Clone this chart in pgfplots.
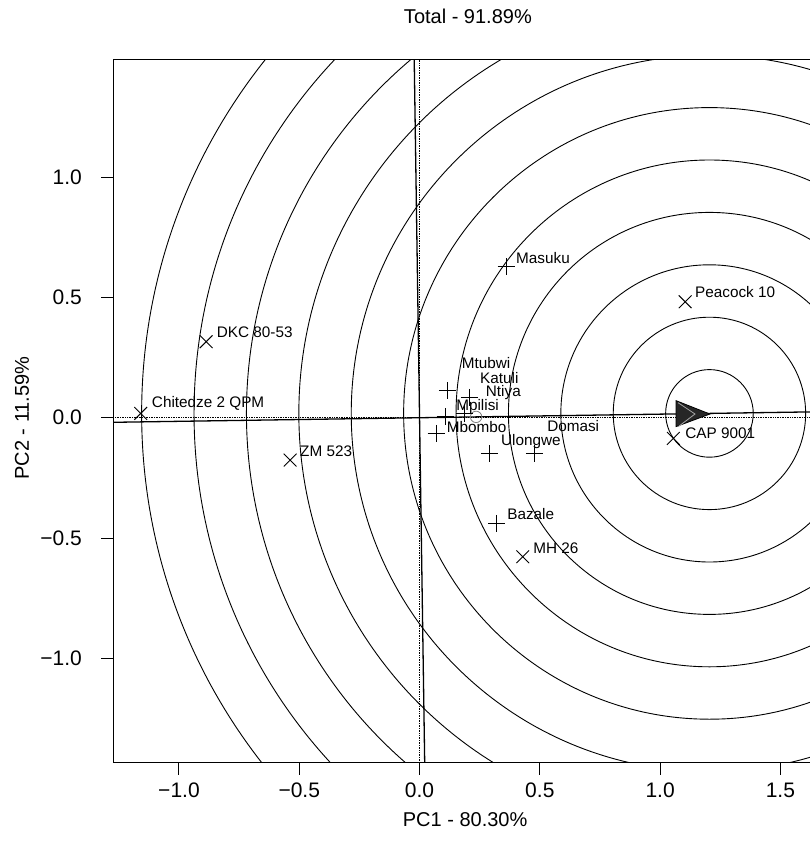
\documentclass[border=0pt]{standalone}
\usepackage{fontspec}
\setmainfont{Liberation Sans}
\usepackage{pgfplots}
\pgfplotsset{compat=1.18}
\tikzset{labelnode/.style={font=\fontsize{15.3bp}{18bp}\selectfont, anchor=west, inner sep=0pt}}
\pgfplotstableread{
x y
0.360 0.628
0.116 0.112
0.207 0.085
0.186 0.018
0.106 0.004
0.069 -0.065
0.290 -0.150
0.477 -0.148
0.321 -0.439
}\envtab
\pgfplotstableread{
x y
-0.887 0.316
-1.159 0.018
-0.538 -0.176
1.104 0.482
1.055 -0.086
0.429 -0.578
}\gentab
\begin{document}
\begin{tikzpicture}
\useasboundingbox (-113.3bp,-80.3bp) rectangle (696.7bp,762.7bp);
\begin{axis}[
  scale only axis, width=696.7bp, height=703.4bp,
  xmin=-1.273, xmax=1.623, ymin=-1.434, ymax=1.490,
  axis x line*=box, axis y line*=left,
  axis line style={-, line width=1.3bp},
  xtick pos=bottom, ytick pos=left,
  tick align=outside, major tick length=12bp,
  tick style={line width=1bp, black},
  xtick={-1,-0.5,0,0.5,1,1.5},
  xticklabels={−1.0,−0.5,0.0,0.5,1.0,1.5},
  ytick={-1,-0.5,0,0.5,1},
  yticklabels={−1.0,−0.5,0.0,0.5,1.0},
  every tick label/.append style={font=\fontsize{21bp}{25bp}\selectfont},
  xticklabel style={yshift=-5bp},
  yticklabel style={xshift=-16bp},
  title={Total - 91.89\%},
  title style={at={(0.509,1.053)}, anchor=center, font=\fontsize{20bp}{24bp}\selectfont},
  xlabel={PC1 - 80.30\%},
  xlabel style={at={(0.505,-0.0815)}, anchor=center, font=\fontsize{20bp}{24bp}\selectfont},
  ylabel={PC2 - 11.59\%},
  ylabel style={at={(-0.131,0.49)}, anchor=center, font=\fontsize{20bp}{24bp}\selectfont},
]
% concentric circles around the ideal point
\draw[line width=0.9bp] (axis cs:1.205,0.018) circle [radius=43.8bp];
\draw[line width=0.9bp] (axis cs:1.205,0.018) circle [radius=96.2bp];
\draw[line width=0.9bp] (axis cs:1.205,0.018) circle [radius=148.6bp];
\draw[line width=0.9bp] (axis cs:1.205,0.018) circle [radius=201.0bp];
\draw[line width=0.9bp] (axis cs:1.205,0.018) circle [radius=253.4bp];
\draw[line width=0.9bp] (axis cs:1.205,0.018) circle [radius=305.8bp];
\draw[line width=0.9bp] (axis cs:1.205,0.018) circle [radius=358.2bp];
\draw[line width=0.9bp] (axis cs:1.205,0.018) circle [radius=410.6bp];
\draw[line width=0.9bp] (axis cs:1.205,0.018) circle [radius=463.0bp];
\draw[line width=0.9bp] (axis cs:1.205,0.018) circle [radius=515.4bp];
\draw[line width=0.9bp] (axis cs:1.205,0.018) circle [radius=567.8bp];
% dotted reference axes
\addplot[black, line width=0.7bp, densely dotted] coordinates {(0,-1.434) (0,1.490)};
\addplot[black, line width=0.7bp, densely dotted] coordinates {(-1.273,0) (1.623,0)};
% AEC lines
\addplot[black, line width=1.3bp] coordinates {(-1.273,-0.019) (1.623,0.0242)};
\addplot[black, line width=1.3bp] coordinates {(-0.0222,1.490) (0.0214,-1.434)};
% arrow
\addplot[draw=black, fill=black!85, line width=0.8bp] coordinates {(1.066,0.071) (1.207,0.0154) (1.066,-0.037)} -- cycle;
\addplot[gray!70, line width=0.8bp] coordinates {(1.075,0.0623) (1.145,0.0154) (1.075,-0.0374)};
% average environment
\addplot[only marks, mark=o, mark size=5.7bp, gray, line width=0.8bp] coordinates {(0.235,0.0035)};
% environments
\addplot[only marks, mark=+, mark size=8.5bp, black, line width=0.9bp] table {\envtab};
% genotypes
\addplot[only marks, mark=x, mark size=9bp, black, line width=0.9bp] table {\gentab};
% labels
\node[labelnode] at (axis cs:0.401,0.663) {Masuku};
\node[labelnode] at (axis cs:1.145,0.521) {Peacock 10};
\node[labelnode] at (axis cs:1.104,-0.065) {CAP 9001};
\node[labelnode] at (axis cs:0.472,-0.543) {MH 26};
\node[labelnode] at (axis cs:0.364,-0.401) {Bazale};
\node[labelnode] at (axis cs:-0.843,0.357) {DKC 80-53};
\node[labelnode] at (axis cs:-1.113,0.060) {Chitedze 2 QPM};
\node[labelnode] at (axis cs:-0.497,-0.138) {ZM 523};
\node[labelnode] at (axis cs:0.175,0.227) {Mtubwi};
\node[labelnode] at (axis cs:0.251,0.167) {Katuli};
\node[labelnode] at (axis cs:0.275,0.104) {Ntiya};
\node[labelnode] at (axis cs:0.152,0.046) {Mpilisi};
\node[labelnode] at (axis cs:0.113,-0.040) {Mbombo};
\node[labelnode] at (axis cs:0.338,-0.100) {Ulongwe};
\node[labelnode] at (axis cs:0.530,-0.036) {Domasi};
\end{axis}
\end{tikzpicture}
\end{document}
